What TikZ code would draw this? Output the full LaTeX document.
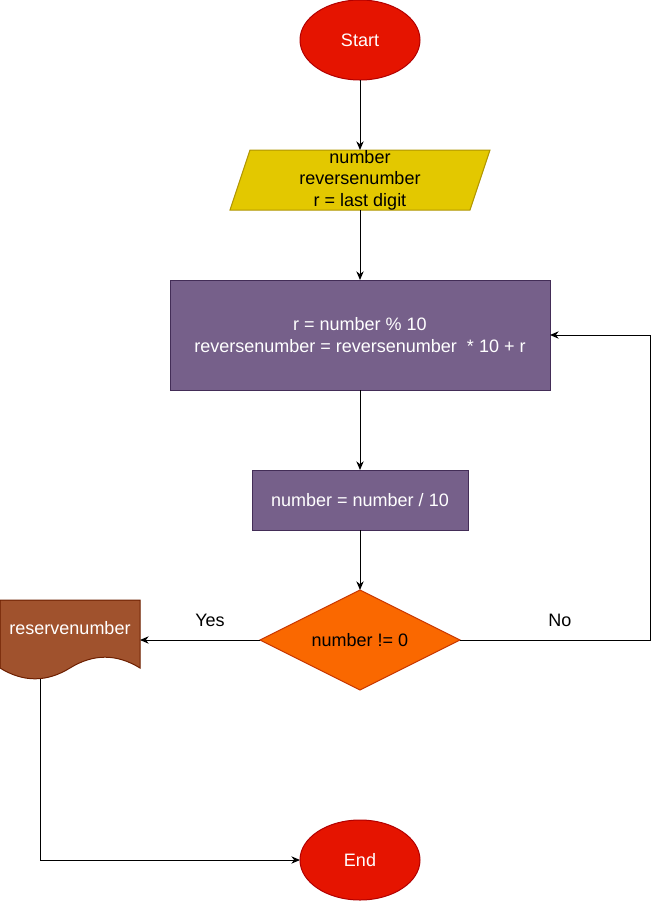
\documentclass[tikz,border=0pt]{standalone}
\usepackage{fontspec}
\setmainfont{Liberation Sans}
\usetikzlibrary{positioning,shapes.geometric,arrows.meta,backgrounds}

\definecolor{redfill}{HTML}{E51400}
\definecolor{redline}{HTML}{B20000}
\definecolor{yellowfill}{HTML}{E3C800}
\definecolor{yellowline}{HTML}{B09500}
\definecolor{purplefill}{HTML}{76608A}
\definecolor{purpleline}{HTML}{432D57}
\definecolor{orangefill}{HTML}{FA6800}
\definecolor{orangeline}{HTML}{C73500}
\definecolor{brownfill}{HTML}{A0522D}
\definecolor{brownline}{HTML}{6D1F00}

\tikzstyle{box-term} = [ellipse, minimum width=90pt, minimum height=60pt, inner sep=0pt, outer sep=0pt, fill=redfill, draw=redline, line width=0.75pt, text=white]
\tikzstyle{box-proc} = [rectangle, inner sep=0pt, outer sep=0pt, align=center, fill=purplefill, draw=purpleline, line width=0.75pt, text=white]
\tikzstyle{box-io} = [rectangle, minimum width=195pt, minimum height=45pt, inner sep=0pt, outer sep=0pt, align=center]
\tikzstyle{box-dec} = [diamond, aspect=2, minimum width=150pt, minimum height=75pt, inner sep=0pt, outer sep=0pt, fill=orangefill, draw=orangeline, line width=0.75pt]
\tikzstyle{box-doc} = [rectangle, minimum width=105pt, minimum height=60pt, inner sep=0pt, outer sep=0pt]
\tikzstyle{box-nb} = [rectangle, inner sep=0pt]
\tikzstyle{arrow} = [line width=0.75pt, -{Stealth[length=6.5pt,width=5.5pt]}]

\begin{document}
\begin{tikzpicture}[x=0.75pt, y=-0.75pt, font=\fontsize{13.5}{16.2}\selectfont]
  \useasboundingbox (0,0) rectangle (660,901);

  \node (start) [box-term] at (360,40) {Start};
  \node (input) [box-io, below=52.5pt of start] {number\\reversenumber\\r = last digit};
  \node (calc) [box-proc, minimum width=285pt, minimum height=82.5pt, below=52.5pt of input] {r = number \% 10\\reversenumber = reversenumber~~* 10 + r};
  \node (divide) [box-proc, minimum width=162pt, minimum height=45pt, below=60pt of calc] {number = number / 10};
  \node (check) [box-dec, below=45pt of divide] {number != 0};
  \node (reserve) [box-doc, left=90pt of check, label={[box-nb, text=white, yshift=9pt]center:reservenumber}] {};
  \node (finish) [box-term, below=97.5pt of check] {End};

  % shapes drawn behind the text
  \begin{scope}[on background layer, shift={(input.north west)}]
    \filldraw [fill=yellowfill, draw=yellowline, line width=0.75pt] (20,0) -- (260,0) -- (240,60) -- (0,60) -- cycle;
  \end{scope}
  \begin{scope}[on background layer, shift={(reserve.south west)}]
    \filldraw [fill=brownfill, draw=brownline, line width=0.75pt] (0,-80) -- (140,-80) -- (140,-12)
      .. controls (116.67,-26.4) and (93.33,-26.4) .. (70,-12)
      .. controls (46.67,2.4) and (23.33,2.4) .. (0,-12) -- cycle;
  \end{scope}
  \coordinate (docfoot) at ([shift={(40,-1.4)}]reserve.south west);

  \draw [arrow] (start) -- (input);
  \draw [arrow] (input) -- (calc);
  \draw [arrow] (calc) -- (divide);
  \draw [arrow] (divide) -- (check);
  \draw [arrow] (check.west) -- node [box-nb, pos=0.417, yshift=14.5pt] {Yes} (reserve.east);
  \draw [arrow] (check.east) -| node [box-nb, pos=0.263, yshift=14.5pt] {No} ([xshift=75pt]calc.east) -- (calc.east);
  \draw [arrow] (docfoot) |- (finish.west);
\end{tikzpicture}
\end{document}
